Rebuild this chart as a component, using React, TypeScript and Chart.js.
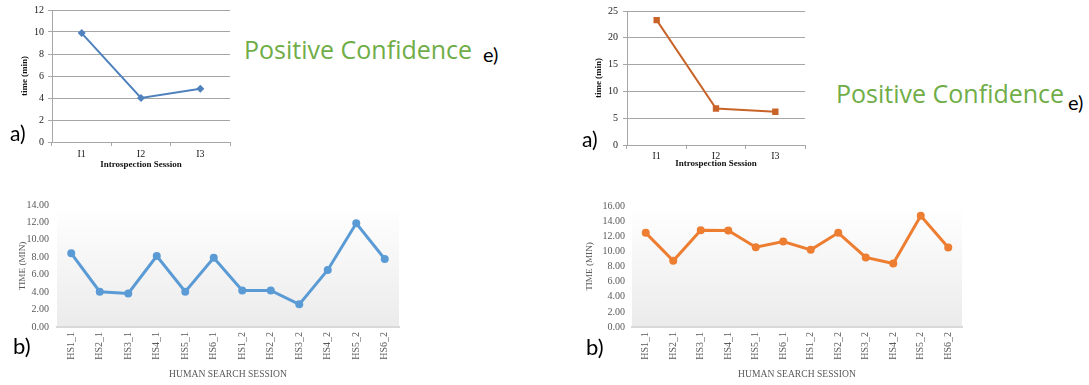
import React, { useEffect, useRef } from "react";
import { Chart, registerables } from "chart.js";

Chart.register(...registerables);

// ---------- data ----------
const introCategories = ["I1", "I2", "I3"];
const introTimesLeft = [9.9, 4.0, 4.85];
const introTimesRight = [23.3, 6.8, 6.2];

const humanSessions = [
  "HS1_1", "HS2_1", "HS3_1", "HS4_1", "HS5_1", "HS6_1",
  "HS1_2", "HS2_2", "HS3_2", "HS4_2", "HS5_2", "HS6_2",
];
const humanTimesLeft = [8.45, 4.05, 3.85, 8.15, 4.05, 7.95, 4.2, 4.2, 2.6, 6.55, 11.9, 7.8];
const humanTimesRight = [12.45, 8.75, 12.8, 12.75, 10.55, 11.3, 10.2, 12.45, 9.2, 8.4, 14.7, 10.5];

const introMaxLeft = 12;
const introStepLeft = 2;
const introMaxRight = 25;
const introStepRight = 5;
const humanMaxLeft = 14;
const humanMaxRight = 16;
const humanStep = 2;

const SERIF = "'Liberation Serif', 'Times New Roman', serif";
const SANS = "Lato, 'Open Sans', sans-serif";
const WIDE_SANS = "'Open Sans', Lato, sans-serif";

const gradientPlugin = {
  id: "plotGradient",
  beforeDraw(chart: any) {
    const a = chart.chartArea;
    if (!a) return;
    const ctx = chart.ctx;
    const g = ctx.createLinearGradient(0, a.top, 0, a.bottom);
    g.addColorStop(0, "#ffffff");
    g.addColorStop(1, "#ebebeb");
    ctx.save();
    ctx.fillStyle = g;
    ctx.fillRect(a.left, a.top, a.right - a.left, a.bottom - a.top);
    ctx.restore();
  },
};

type IntroProps = {
  left: number; top: number; width: number; height: number;
  values: number[]; max: number; step: number; color: string; pointStyle: string;
  padTop: number; padRight: number; yWidth: number; xHeight: number;
  yLabelPad: number; yTitlePad: number; xLabelPad: number; xTitlePad: number;
  pointRadius: number;
};

function IntroChart(p: IntroProps) {
  const ref = useRef<HTMLCanvasElement | null>(null);
  useEffect(() => {
    if (!ref.current) return;
    const gridColor = "#a6a6a6";
    const chart = new Chart(ref.current, {
      type: "line",
      data: {
        labels: introCategories,
        datasets: [
          {
            data: p.values,
            borderColor: p.color,
            backgroundColor: p.color,
            borderWidth: 2,
            pointStyle: p.pointStyle as any,
            pointRadius: p.pointRadius,
            pointBorderWidth: 0,
            tension: 0,
          },
        ],
      },
      options: {
        animation: false,
        responsive: false,
        devicePixelRatio: 1,
        layout: { padding: { top: p.padTop, right: p.padRight, left: 0, bottom: 0 } },
        plugins: { legend: { display: false }, tooltip: { enabled: false } },
        scales: {
          x: {
            offset: true,
            afterFit: (s: any) => { s.height = p.xHeight; },
            grid: { drawOnChartArea: false, drawTicks: true, tickLength: 4, offset: true, color: gridColor },
            border: { display: true, color: gridColor },
            ticks: { padding: p.xLabelPad, color: "#222", font: { family: SERIF, size: 10 }, maxRotation: 0 },
            title: {
              display: true, text: "Introspection Session", color: "#111",
              font: { family: SERIF, size: 9, weight: "bold" },
              padding: { top: 0, bottom: p.xTitlePad },
            },
          },
          y: {
            min: 0, max: p.max,
            afterFit: (s: any) => { s.width = p.yWidth; },
            grid: { color: gridColor, drawTicks: true, tickLength: 4 },
            border: { display: true, color: gridColor },
            ticks: { stepSize: p.step, padding: p.yLabelPad, color: "#222", font: { family: SERIF, size: 10 } },
            title: {
              display: true, text: "time (min)", color: "#111",
              font: { family: SERIF, size: 9, weight: "bold" },
              padding: { top: p.yTitlePad, bottom: 0 },
            },
          },
        },
      },
    });
    return () => chart.destroy();
  }, []);
  return (
    <div style={{ position: "absolute", left: p.left, top: p.top, width: p.width, height: p.height }}>
      <canvas ref={ref} width={p.width} height={p.height} style={{ width: p.width, height: p.height, display: "block" }} />
    </div>
  );
}

type HumanProps = {
  left: number; top: number; width: number; height: number;
  values: number[]; max: number; color: string;
  padTop: number; padRight: number; yWidth: number; xHeight: number;
  yLabelPad: number; yTitlePad: number; xTitlePad: number;
};

function HumanChart(p: HumanProps) {
  const ref = useRef<HTMLCanvasElement | null>(null);
  useEffect(() => {
    if (!ref.current) return;
    const chart = new Chart(ref.current, {
      type: "line",
      data: {
        labels: humanSessions,
        datasets: [
          {
            data: p.values,
            borderColor: p.color,
            backgroundColor: p.color,
            borderWidth: 3,
            pointStyle: "circle",
            pointRadius: 4,
            pointBorderWidth: 0,
            tension: 0,
          },
        ],
      },
      options: {
        animation: false,
        responsive: false,
        devicePixelRatio: 1,
        layout: { padding: { top: p.padTop, right: p.padRight, left: 0, bottom: 0 } },
        plugins: { legend: { display: false }, tooltip: { enabled: false } },
        scales: {
          x: {
            offset: true,
            afterFit: (s: any) => { s.height = p.xHeight; },
            grid: { display: false, drawOnChartArea: false, drawTicks: false },
            border: { display: true, color: "#d9d9d9", width: 2 },
            ticks: {
              padding: 5, color: "#595959", font: { family: SERIF, size: 10 },
              minRotation: 90, maxRotation: 90, autoSkip: false,
            },
            title: {
              display: true, text: "HUMAN SEARCH SESSION", color: "#595959",
              font: { family: SERIF, size: 9.6 },
              padding: { top: 0, bottom: p.xTitlePad },
            },
          },
          y: {
            min: 0, max: p.max,
            afterFit: (s: any) => { s.width = p.yWidth; },
            grid: { display: false, drawTicks: false },
            border: { display: false },
            ticks: {
              stepSize: humanStep, padding: p.yLabelPad, color: "#595959",
              font: { family: SERIF, size: 10 },
              callback: (v: any) => Number(v).toFixed(2),
            },
            title: {
              display: true, text: "TIME (MIN)", color: "#595959",
              font: { family: SERIF, size: 9.2 },
              padding: { top: p.yTitlePad, bottom: 0 },
            },
          },
        },
      },
      plugins: [gradientPlugin],
    });
    return () => chart.destroy();
  }, []);
  return (
    <div style={{ position: "absolute", left: p.left, top: p.top, width: p.width, height: p.height }}>
      <canvas ref={ref} width={p.width} height={p.height} style={{ width: p.width, height: p.height, display: "block" }} />
    </div>
  );
}

function Label(props: { text: string; left: number; baseline: number; size: number; color?: string; family?: string; asc?: number }) {
  const top = props.baseline - props.size * (props.asc ?? 0.887);
  return (
    <div
      style={{
        position: "absolute", left: props.left, top, fontFamily: props.family || SANS, fontSize: props.size,
        lineHeight: `${props.size}px`, color: props.color || "#000", whiteSpace: "nowrap",
      }}
    >
      {props.text}
    </div>
  );
}

export default function App() {
  return (
    <div style={{ position: "absolute", left: 0, top: 0, width: 1089, height: 385, background: "#fff", overflow: "hidden" }}>
      <IntroChart
        left={0} top={0} width={240} height={180}
        values={introTimesLeft} max={introMaxLeft} step={introStepLeft}
        color="#4f81bd" pointStyle="rectRot" pointRadius={4}
        padTop={9} padRight={10} yWidth={52} xHeight={38}
        yLabelPad={4} yTitlePad={19.6} xLabelPad={2} xTitlePad={9.6}
      />
      <IntroChart
        left={560} top={0} width={255} height={180}
        values={introTimesRight} max={introMaxRight} step={introStepRight}
        color="#c8642a" pointStyle="rect" pointRadius={4.5}
        padTop={9} padRight={10} yWidth={67} xHeight={35}
        yLabelPad={5} yTitlePad={33.6} xLabelPad={1} xTitlePad={10.6}
      />
      <HumanChart
        left={0} top={190} width={410} height={195}
        values={humanTimesLeft} max={humanMaxLeft} color="#5b9bd5"
        padTop={15} padRight={11} yWidth={57} xHeight={58}
        yLabelPad={8} yTitlePad={16.6} xTitlePad={5.2}
      />
      <HumanChart
        left={560} top={190} width={410} height={195}
        values={humanTimesRight} max={humanMaxRight} color="#ed7d31"
        padTop={16} padRight={8} yWidth={72} xHeight={58}
        yLabelPad={7} yTitlePad={23.6} xTitlePad={5.2}
      />
      <Label text="Positive Confidence" left={244} baseline={59} size={25} color="#70ad47" family={WIDE_SANS} asc={0.888} />
      <Label text="e)" left={483} baseline={62} size={20} />
      <Label text="Positive Confidence" left={836} baseline={103} size={25} color="#70ad47" family={WIDE_SANS} asc={0.888} />
      <Label text="e)" left={1068} baseline={110} size={20} />
      <Label text="a)" left={10} baseline={141} size={21} />
      <Label text="a)" left={582} baseline={147} size={21} />
      <Label text="b)" left={13} baseline={355} size={22} />
      <Label text="b)" left={586} baseline={356} size={22} />
    </div>
  );
}
